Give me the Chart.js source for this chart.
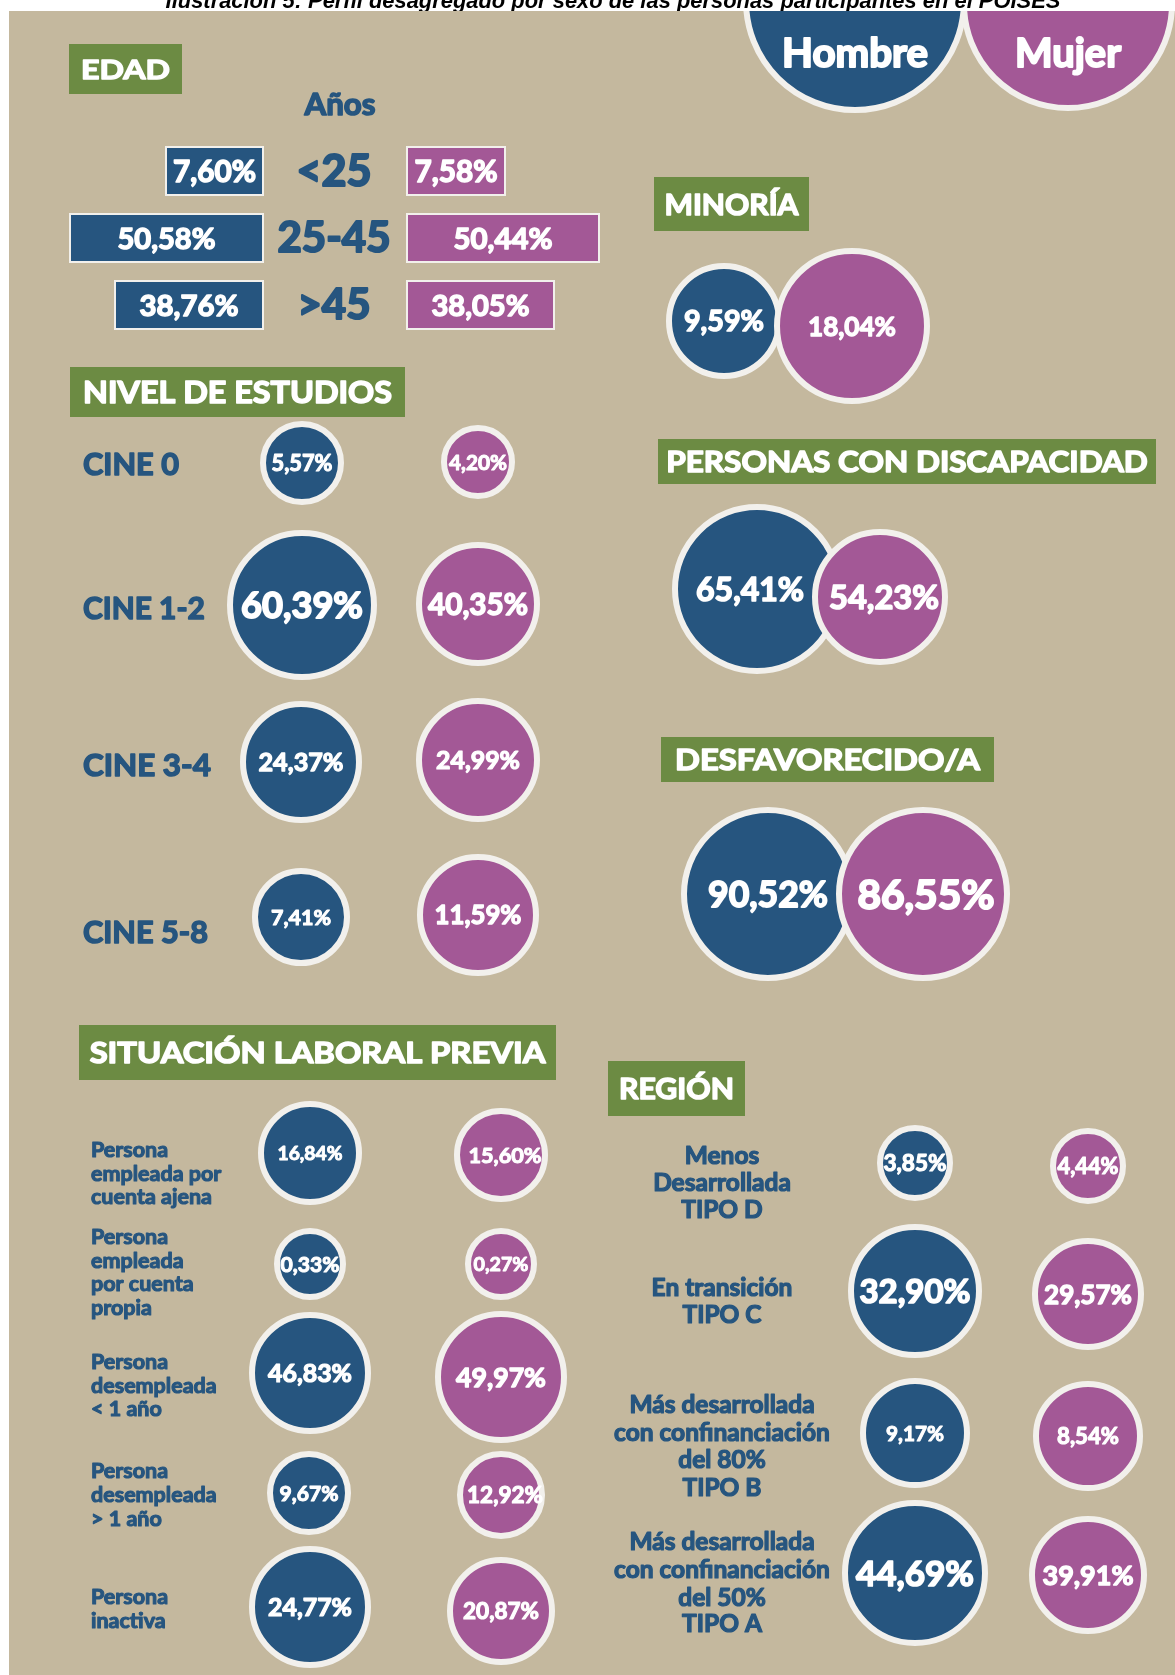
<!DOCTYPE html>
<html lang="es">
<head>
<meta charset="utf-8">
<title>Perfil desagregado por sexo</title>
<script src="https://cdn.jsdelivr.net/npm/chart.js@4.4.1/dist/chart.umd.min.js"></script>
<style>
	html, body { margin: 0; padding: 0; background: #fff; overflow: hidden; }
	canvas { display: block; }
</style>
</head>
<body>
<canvas id="perfil" width="1175" height="1675"></canvas>
<script>
const titulo = 'Ilustración 5: Perfil desagregado por sexo de las personas participantes en el POISES'
const generos = ['Hombre', 'Mujer']

const edadTitulo = 'Años'
const edadCategorias = ['<25', '25-45', '>45']
const edadHombre = [7.60, 50.58, 38.76]
const edadMujer = [7.58, 50.44, 38.05]

const minoriaHombre = [9.59]
const minoriaMujer = [18.04]

const estudiosCategorias = ['CINE 0', 'CINE 1-2', 'CINE 3-4', 'CINE 5-8']
const estudiosHombre = [5.57, 60.39, 24.37, 7.41]
const estudiosMujer = [4.20, 40.35, 24.99, 11.59]

const discapacidadHombre = [65.41]
const discapacidadMujer = [54.23]

const desfavorecidoHombre = [90.52]
const desfavorecidoMujer = [86.55]

const laboralCategorias = [
	['Persona', 'empleada por', 'cuenta ajena'],
	['Persona', 'empleada', 'por cuenta', 'propia'],
	['Persona', 'desempleada', '< 1 año'],
	['Persona', 'desempleada', '> 1 año'],
	['Persona', 'inactiva'],
]
const laboralHombre = [16.84, 0.33, 46.83, 9.67, 24.77]
const laboralMujer = [15.60, 0.27, 49.97, 12.92, 20.87]

const regionCategorias = [
	['Menos', 'Desarrollada', 'TIPO D'],
	['En transición', 'TIPO C'],
	['Más desarrollada', 'con confinanciación', 'del 80%', 'TIPO B'],
	['Más desarrollada', 'con confinanciación', 'del 50%', 'TIPO A'],
]
const regionHombre = [3.85, 32.90, 9.17, 44.69]
const regionMujer = [4.44, 29.57, 8.54, 39.91]

// ---- maquetación (posiciones y tamaños, separadas de los datos) ----
const azul = '#26557F'
const morado = '#A35896'
const verde = '#6C8B43'
const fondo = '#C4B89E'
const borde = '#F2F0EC'
const fuente = 'Lato, "Open Sans", sans-serif'
const peso = 'bold'

// [texto, x, y, ancho, alto, ancho del texto, altura de mayúscula]
const cabeceras = [
	['EDAD', 69, 44, 113, 50, 89, 20],
	['MINORÍA', 654, 177, 155, 54, 134, 21],
	['NIVEL DE ESTUDIOS', 70, 367, 335, 50, 309, 22],
	['PERSONAS CON DISCAPACIDAD', 658, 439, 498, 45, 482, 21],
	['DESFAVORECIDO/A', 661, 737, 333, 45, 305, 21],
	['SITUACIÓN LABORAL PREVIA', 79, 1025, 477, 55, 456, 21],
	['REGIÓN', 608, 1061, 137, 55, 115, 21],
]

// edad: filas, anchos de caja y anchos de texto
const edadFilasY = [171, 238, 305]
const edadAltoCaja = 48
const edadBordeH = 263
const edadBordeM = 407
const edadAnchoH = [97, 193, 148]
const edadAnchoM = [98, 192, 147]
const edadTextoH = [83, 98, 99]
const edadTextoM = [83, 99, 98]
const edadCatTexto = [75, 113, 73]

// burbujas: [x, y, radio exterior, ancho del texto, desplazamiento x del texto]
const posMinoria = { h: [[724, 321, 58, 80]], m: [[852, 326, 78, 88]] }
const posEstudios = {
	h: [[302, 463, 42, 61], [302, 605, 75, 122], [301, 762, 61, 85], [301, 917, 49, 60]],
	m: [[478, 462, 37, 58], [478, 604, 62, 100], [478, 760, 62, 84], [478, 915, 61, 87]],
}
const posDiscapacidad = { h: [[757, 589, 85, 108, -7]], m: [[880, 597, 68, 110, 4]] }
const posDesfavorecido = { h: [[768, 894, 87, 120]], m: [[923, 894, 87, 137, 3]] }
const posLaboral = {
	h: [[310, 1153, 52, 65], [310, 1264, 36, 59], [310, 1373, 61, 84], [309, 1493, 42, 59], [310, 1607, 61, 84]],
	m: [[501, 1155, 47, 73, 4], [501, 1264, 36, 55], [501, 1377, 66, 90], [501, 1495, 44, 76, 4], [501, 1611, 54, 76]],
}
const posRegion = {
	h: [[915, 1163, 38, 63], [915, 1291, 67, 111], [915, 1433, 55, 58], [915, 1573, 73, 118]],
	m: [[1088, 1166, 38, 61], [1088, 1294, 56, 88], [1088, 1436, 55, 62], [1088, 1575, 59, 91]],
}
const posLeyenda = [[855, 1, 112, 146], [1068, 4, 107, 106]]

const estudiosEtiquetaY = [464, 608, 765, 932]
const estudiosEtiquetaAncho = [96, 122, 128, 125]
const laboralLineasY = [[1149, 1173, 1196], [1236, 1260, 1283, 1307], [1361, 1385, 1408], [1470, 1494, 1518], [1596, 1620]]
const regionLineasY = [[1155, 1182, 1209], [1287, 1314], [1404, 1432, 1459, 1487], [1541, 1569, 1597, 1623]]

function formato(v) {
	return v.toFixed(2).replace('.', ',') + '%'
}

// relleno + trazo fino del mismo color para engrosar la letra
function pintar(ctx, str, x, y, size) {
	ctx.lineJoin = 'round'
	ctx.lineWidth = Math.max(0.8, size * 0.05)
	ctx.strokeStyle = ctx.fillStyle
	ctx.strokeText(str, x, y)
	ctx.fillText(str, x, y)
}

// texto ajustado a un ancho; con alto dado se estira en horizontal
function texto(ctx, str, x, y, ancho, color, alto, align) {
	ctx.save()
	ctx.font = `${peso} 100px ${fuente}`
	const nat = ctx.measureText(str).width
	const cap100 = ctx.measureText('H').actualBoundingBoxAscent
	let size = 100 * ancho / nat
	let sx = 1
	if (alto) {
		size = 100 * alto / cap100
		sx = ancho / (nat * size / 100)
	}
	ctx.font = `${peso} ${size}px ${fuente}`
	ctx.fillStyle = color
	ctx.textAlign = align || 'center'
	ctx.textBaseline = 'alphabetic'
	ctx.translate(x, y + cap100 * size / 200)
	ctx.scale(sx, 1)
	pintar(ctx, str, 0, 0, size)
	ctx.restore()
}

function lineas(ctx, lista, x, ys, size, align) {
	ctx.save()
	ctx.font = `${peso} ${size}px ${fuente}`
	ctx.fillStyle = azul
	ctx.textAlign = align
	ctx.textBaseline = 'alphabetic'
	const cap = ctx.measureText('H').actualBoundingBoxAscent
	lista.forEach((l, i) => pintar(ctx, l, x, ys[i] + cap / 2, size))
	ctx.restore()
}

function burbujas(valores, pos) {
	return valores.map((v, i) => ({
		x: pos[i][0],
		y: pos[i][1],
		r: pos[i][2] - 3,
		v: v,
		w: pos[i][3],
		dx: pos[i][4] || 0,
	}))
}

const datosHombre = [
	...burbujas(minoriaHombre, posMinoria.h),
	...burbujas(estudiosHombre, posEstudios.h),
	...burbujas(discapacidadHombre, posDiscapacidad.h),
	...burbujas(desfavorecidoHombre, posDesfavorecido.h),
	...burbujas(laboralHombre, posLaboral.h),
	...burbujas(regionHombre, posRegion.h),
]
const datosMujer = [
	...burbujas(minoriaMujer, posMinoria.m),
	...burbujas(estudiosMujer, posEstudios.m),
	...burbujas(discapacidadMujer, posDiscapacidad.m),
	...burbujas(desfavorecidoMujer, posDesfavorecido.m),
	...burbujas(laboralMujer, posLaboral.m),
	...burbujas(regionMujer, posRegion.m),
]
const datosLeyenda = generos.map((g, i) => ({
	x: posLeyenda[i][0],
	y: posLeyenda[i][1],
	r: posLeyenda[i][2] - 3,
	t: g,
	w: posLeyenda[i][3],
}))

const fondoPlugin = {
	id: 'fondo',
	beforeDraw(chart) {
		const ctx = chart.ctx
		const xs = chart.scales.x
		const ys = chart.scales.y
		ctx.save()
		ctx.fillStyle = '#fff'
		ctx.fillRect(0, 0, chart.width, chart.height)

		// título (recortado por el panel)
		ctx.font = `italic bold 100px "Liberation Sans", Arial, sans-serif`
		const s = 100 * 895 / ctx.measureText(titulo).width
		ctx.font = `italic bold ${s}px "Liberation Sans", Arial, sans-serif`
		ctx.fillStyle = '#000'
		ctx.textAlign = 'center'
		ctx.fillText(titulo, 613, 8)

		ctx.fillStyle = fondo
		ctx.fillRect(9, 11, chart.width - 9, chart.height - 11)

		cabeceras.forEach(c => {
			ctx.fillStyle = verde
			ctx.fillRect(c[1], c[2], c[3], c[4])
			texto(ctx, c[0], c[1] + c[3] / 2, c[2] + c[4] / 2, c[5], '#fff', c[6])
		})

		// edad
		texto(ctx, edadTitulo, 340, 104, 71, azul)
		edadCategorias.forEach((cat, i) => {
			const yc = edadFilasY[i]
			const top = ys.getPixelForValue(yc - edadAltoCaja / 2)
			const bot = ys.getPixelForValue(yc + edadAltoCaja / 2)
			const xh0 = xs.getPixelForValue(edadBordeH - edadAnchoH[i])
			const xh1 = xs.getPixelForValue(edadBordeH)
			const xm0 = xs.getPixelForValue(edadBordeM)
			const xm1 = xs.getPixelForValue(edadBordeM + edadAnchoM[i])
			ctx.lineWidth = 2
			ctx.strokeStyle = borde
			ctx.fillStyle = azul
			ctx.fillRect(xh0, top, xh1 - xh0, bot - top)
			ctx.strokeRect(xh0, top, xh1 - xh0, bot - top)
			ctx.fillStyle = morado
			ctx.fillRect(xm0, top, xm1 - xm0, bot - top)
			ctx.strokeRect(xm0, top, xm1 - xm0, bot - top)
			texto(ctx, formato(edadHombre[i]), (xh0 + xh1) / 2, (top + bot) / 2, edadTextoH[i], '#fff')
			texto(ctx, formato(edadMujer[i]), (xm0 + xm1) / 2, (top + bot) / 2, edadTextoM[i], '#fff')
			texto(ctx, cat, 334, yc - 1, edadCatTexto[i], azul)
		})

		estudiosCategorias.forEach((cat, i) => {
			texto(ctx, cat, 83, estudiosEtiquetaY[i], estudiosEtiquetaAncho[i], azul, null, 'left')
		})
		laboralCategorias.forEach((l, i) => lineas(ctx, l, 91, laboralLineasY[i], 21.5, 'left'))
		regionCategorias.forEach((l, i) => lineas(ctx, l, 722, regionLineasY[i], 24.5, 'center'))
		ctx.restore()
	},
}

const etiquetasPlugin = {
	id: 'etiquetas',
	afterDatasetsDraw(chart) {
		const ctx = chart.ctx
		chart.data.datasets.forEach((ds, di) => {
			const meta = chart.getDatasetMeta(di)
			meta.data.forEach((el, i) => {
				const d = ds.data[i]
				if (d.t) {
					ctx.save()
					ctx.beginPath()
					ctx.rect(0, 11, chart.width, chart.height)
					ctx.clip()
					texto(ctx, d.t, el.x, 52, d.w, '#fff')
					ctx.restore()
				} else {
					texto(ctx, formato(d.v), el.x + d.dx, el.y, d.w, '#fff')
				}
			})
		})
	},
}

new Chart(document.getElementById('perfil'), {
	type: 'bubble',
	data: {
		datasets: [
			{
				label: 'Mujer',
				data: datosMujer,
				backgroundColor: morado,
				borderColor: borde,
				borderWidth: 6,
			},
			{
				label: 'Hombre',
				data: datosHombre,
				backgroundColor: azul,
				borderColor: borde,
				borderWidth: 6,
			},
			{
				label: 'Leyenda',
				data: datosLeyenda,
				backgroundColor: [azul, morado],
				borderColor: borde,
				borderWidth: 6,
				clip: { left: 0, top: -11, right: 0, bottom: 0 },
			},
		],
	},
	options: {
		responsive: false,
		animation: false,
		devicePixelRatio: 1,
		events: [],
		layout: { padding: 0, autoPadding: false },
		scales: {
			x: { type: 'linear', min: 0, max: 1175, display: false },
			y: { type: 'linear', min: 0, max: 1675, reverse: true, display: false },
		},
		plugins: {
			legend: { display: false },
			tooltip: { enabled: false },
		},
	},
	plugins: [fondoPlugin, etiquetasPlugin],
})
</script>
</body>
</html>
